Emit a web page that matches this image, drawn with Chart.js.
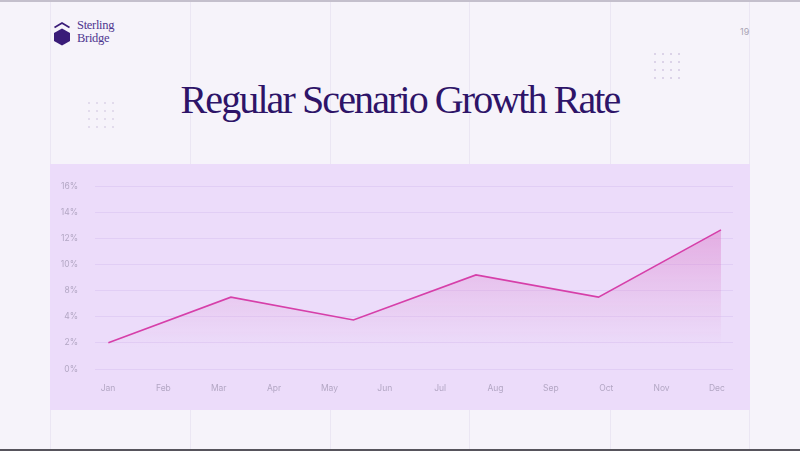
<!DOCTYPE html>
<html>
<head>
<meta charset="utf-8">
<script src="https://cdn.jsdelivr.net/npm/chart.js@4.4.1/dist/chart.umd.min.js"></script>
<style>
  html, body { margin: 0; padding: 0; }
  body { width: 800px; height: 451px; background: #f6f3fa; position: relative; overflow: hidden; font-family: "Liberation Serif", serif; }
  .topline { position: absolute; left: 0; top: 0; width: 800px; height: 2px; background: #c4bfcc; }
  .botline { position: absolute; left: 0; top: 449px; width: 800px; height: 2px; background: #56535c; }
  .vline { position: absolute; top: 2px; width: 1px; height: 447px; background: #ebe6f3; }
  .dots { position: absolute; display: grid; grid-template-columns: repeat(4, 2px); grid-gap: 6px; }
  .dots span { width: 2px; height: 2px; background: #dcd3e8; display: block; }
  .dots.faint span { background: #e2dbec; }
  .logo { position: absolute; left: 51px; top: 20px; }
  .brand { position: absolute; left: 77px; top: 19px; color: #4f3690; font-size: 12.5px; line-height: 12.5px; font-family: "Liberation Serif", serif; letter-spacing: -0.3px; }
  .pagenum { position: absolute; left: 740px; top: 26px; color: #a9a3b4; font-size: 9px; font-family: Inter, sans-serif; z-index: 2; }
  .title { position: absolute; left: 0; width: 800px; top: 76px; text-align: center; color: #2e1468; font-size: 40px; font-family: "Liberation Serif", serif; letter-spacing: -1.9px; }
  .panel { position: absolute; left: 50px; top: 164px; width: 700px; height: 246px; background: #ecdcfa; }
</style>
</head>
<body>
<div class="topline"></div>
<div class="vline" style="left:50px"></div>
<div class="vline" style="left:190px"></div>
<div class="vline" style="left:330px"></div>
<div class="vline" style="left:469px"></div>
<div class="vline" style="left:610px"></div>
<div class="vline" style="left:749px"></div>
<div class="botline"></div>

<div class="dots" style="left:654px; top:53px;">
  <span></span><span></span><span></span><span></span>
  <span></span><span></span><span></span><span></span>
  <span></span><span></span><span></span><span></span>
  <span></span><span></span><span></span><span></span>
</div>
<div class="dots faint" style="left:88px; top:102px;">
  <span></span><span></span><span></span><span></span>
  <span></span><span></span><span></span><span></span>
  <span></span><span></span><span></span><span></span>
  <span></span><span></span><span></span><span></span>
</div>

<svg class="logo" width="22" height="26" viewBox="0 0 22 26">
  <path d="M3.5 7.5 L11 3 L18.5 7.5" fill="none" stroke="#3a1c78" stroke-width="1.7"/>
  <path d="M11 8.5 L19 13 L19 21 L11 25.5 L3 21 L3 13 Z" fill="#3a1c78"/>
</svg>
<div class="brand">Sterling<br>Bridge</div>
<div class="pagenum">19</div>

<div class="title">Regular Scenario Growth Rate</div>

<div class="panel"><canvas id="c" width="700" height="246"></canvas></div>

<script>
const monthLabels = ['Jan','Feb','Mar','Apr','May','Jun','Jul','Aug','Sep','Oct','Nov','Dec'];
const yTickLabels = ['0%','2%','4%','8%','10%','12%','14%','16%'];
const growthValues = [2.0, 5.5, 3.75, 7.2, 5.5, 10.65];

const ctx = document.getElementById('c').getContext('2d');

new Chart(ctx, {
  type: 'line',
  data: {
    datasets: [{
      data: growthValues.map((v, i) => ({ x: i, y: v })),
      xAxisID: 'x2',
      yAxisID: 'y',
      borderColor: '#d63fa9',
      borderWidth: 1.6,
      pointRadius: 0,
      tension: 0,
      fill: 'origin',
      backgroundColor: (c) => {
        const area = c.chart.chartArea;
        if (!area) return 'rgba(214,90,180,0.3)';
        const g = c.chart.ctx.createLinearGradient(0, area.top, 0, area.bottom);
        g.addColorStop(0, 'rgba(218,110,195,0.62)');
        g.addColorStop(0.55, 'rgba(218,120,200,0.22)');
        g.addColorStop(0.88, 'rgba(218,130,205,0.0)');
        g.addColorStop(1, 'rgba(218,130,205,0.0)');
        return g;
      }
    }]
  },
  options: {
    responsive: false,
    animation: false,
    layout: { padding: { left: 0, right: 17, top: 21, bottom: 11 } },
    plugins: { legend: { display: false }, tooltip: { enabled: false } },
    scales: {
      x: {
        type: 'linear',
        position: 'bottom',
        min: -0.235,
        max: 11.29,
        afterFit: (s) => { s.height = 30; },
        grid: { display: false, drawTicks: false },
        border: { display: false },
        ticks: {
          stepSize: 1,
          includeBounds: false,
          autoSkip: false,
          maxTicksLimit: 30,
          maxRotation: 0,
          padding: 14,
          color: '#b3a7c4',
          font: { family: 'Inter, sans-serif', size: 8.5 },
          callback: (v) => Number.isInteger(v) && monthLabels[v] ? monthLabels[v] : ''
        }
      },
      x2: {
        type: 'linear',
        display: false,
        min: -0.109,
        max: 5.098
      },
      y: {
        type: 'linear',
        min: 0,
        max: 14,
        afterFit: (s) => { s.width = 45; },
        grid: { color: 'rgba(205,180,235,0.35)', lineWidth: 1, drawTicks: false },
        border: { display: false },
        ticks: {
          stepSize: 2,
          padding: 17,
          color: '#b3a7c4',
          font: { family: 'Inter, sans-serif', size: 8.5 },
          callback: (v, i) => yTickLabels[i]
        }
      }
    }
  }
});
</script>
</body>
</html>
